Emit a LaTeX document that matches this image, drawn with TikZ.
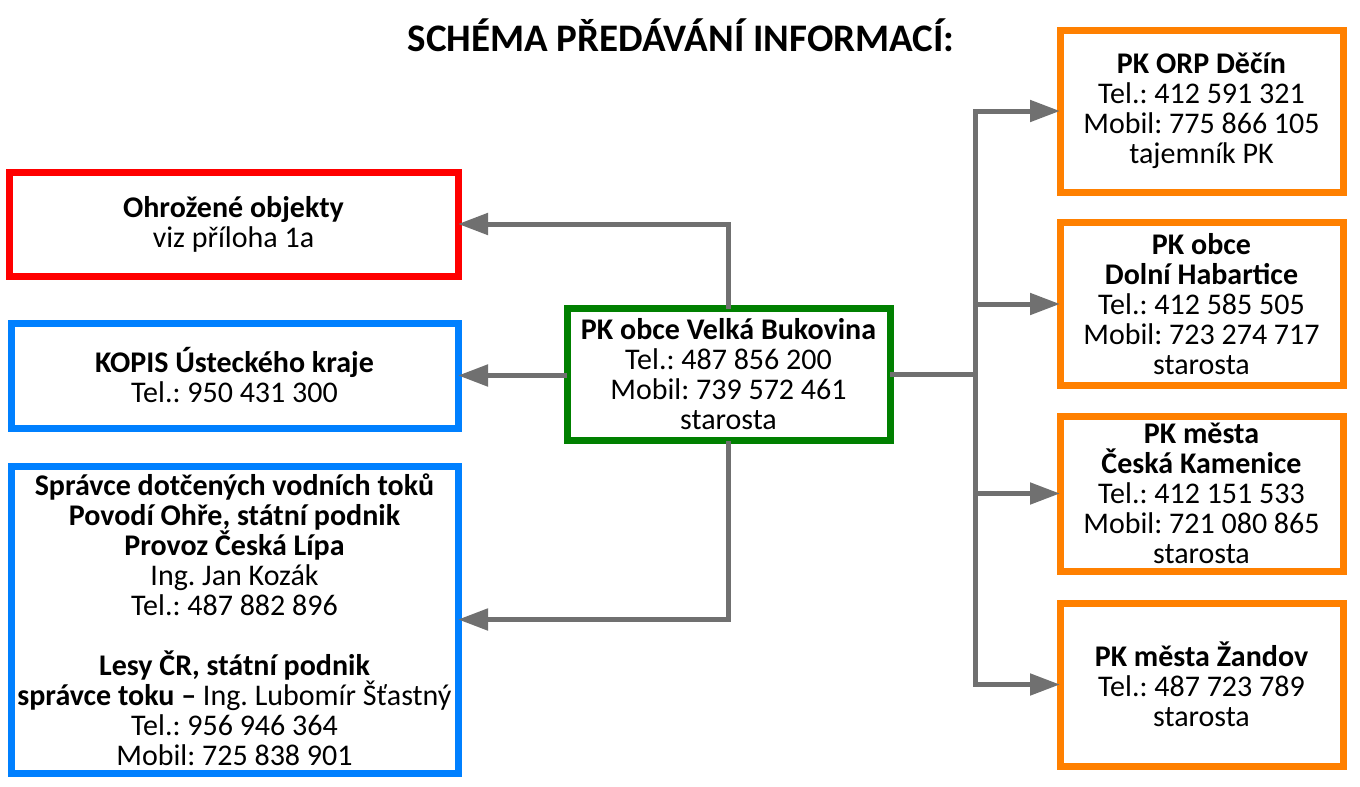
\documentclass[tikz,border=0pt]{standalone}
\usepackage{fontspec}
\setmainfont{Carlito}
\frenchspacing
\usetikzlibrary{arrows.meta}
\definecolor{cred}{RGB}{255,0,0}
\definecolor{cblue}{RGB}{0,128,255}
\definecolor{cgreen}{RGB}{0,128,0}
\definecolor{corange}{RGB}{255,128,0}
\definecolor{cgray}{RGB}{112,112,112}
\tikzset{
  box/.style={draw, line width=7pt, fill=white, inner sep=0pt, outer sep=0pt,
    align=center, font=\fontsize{30}{30}\selectfont\frenchspacing},
  redbox/.style={box, draw=cred},
  bluebox/.style={box, draw=cblue},
  greenbox/.style={box, draw=cgreen},
  orangebox/.style={box, draw=corange, minimum width=283pt},
  conn/.style={draw=cgray, line width=5pt},
  arr/.style={conn, -{Triangle[length=30pt,width=21pt]}},
}
\begin{document}
\begin{tikzpicture}[x=1pt,y=-1pt]
\useasboundingbox (0,0) rectangle (1360,787);
\node[font=\fontsize{39}{39}\selectfont\bfseries] (title) at (681,35) {SCHÉMA PŘEDÁVÁNÍ INFORMACÍ:};

\node[redbox, minimum width=449pt, minimum height=104pt] (r) at (233.5,224)
  {\textbf{Ohrožené objekty}\\viz příloha 1a};
\node[bluebox, minimum width=447pt, minimum height=105pt] (k) at (234.5,375.5)
  {\textbf{KOPIS Ústeckého kraje}\\Tel.: 950 431 300};
\node[bluebox, minimum width=447pt, minimum height=307pt] (b) at (234.5,619.5)
  {\textbf{Správce dotčených vodních toků}\\
   \textbf{Povodí Ohře, státní podnik}\\
   \textbf{Provoz Česká Lípa}\\
   Ing. Jan Kozák\\
   Tel.: 487 882 896\\
   \mbox{}\\
   \textbf{Lesy ČR, státní podnik}\\
   \textbf{správce toku –} Ing. Lubomír Šťastný\\
   Tel.: 956 946 364\\
   Mobil: 725 838 901};
\node[greenbox, minimum width=323pt, minimum height=132pt] (g) at (728.5,374.5)
  {\textbf{PK obce Velká Bukovina}\\Tel.: 487 856 200\\Mobil: 739 572 461\\starosta};

\node[orangebox, minimum height=162pt] (o1) at (1201.5,111)
  {\textbf{PK ORP Děčín}\\Tel.: 412 591 321\\Mobil: 775 866 105\\tajemník PK};
\node[orangebox, minimum height=163pt] (o2) at (1201.5,304)
  {\textbf{PK obce}\\\textbf{Dolní Habartice}\\Tel.: 412 585 505\\Mobil: 723 274 717\\starosta};
\node[orangebox, minimum height=155pt] (o3) at (1201.5,493.5)
  {\textbf{PK města}\\\textbf{Česká Kamenice}\\Tel.: 412 151 533\\Mobil: 721 080 865\\starosta};
\node[orangebox, minimum height=163pt] (o4) at (1201.5,684.5)
  {\textbf{PK města Žandov}\\Tel.: 487 723 789\\starosta};

\coordinate (t) at (975,374.5);

\draw[arr] (g.north) |- (r.east);
\draw[arr] (g.west |- k.east) -- (k.east);
\draw[arr] (g.south) |- (b.east);
\draw[conn] (g.east) -- (t);
\draw[arr] (t) |- (o1.west);
\draw[arr] (t) |- (o2.west);
\draw[arr] (t) |- (o3.west);
\draw[arr] (t) |- (o4.west);
\end{tikzpicture}
\end{document}
